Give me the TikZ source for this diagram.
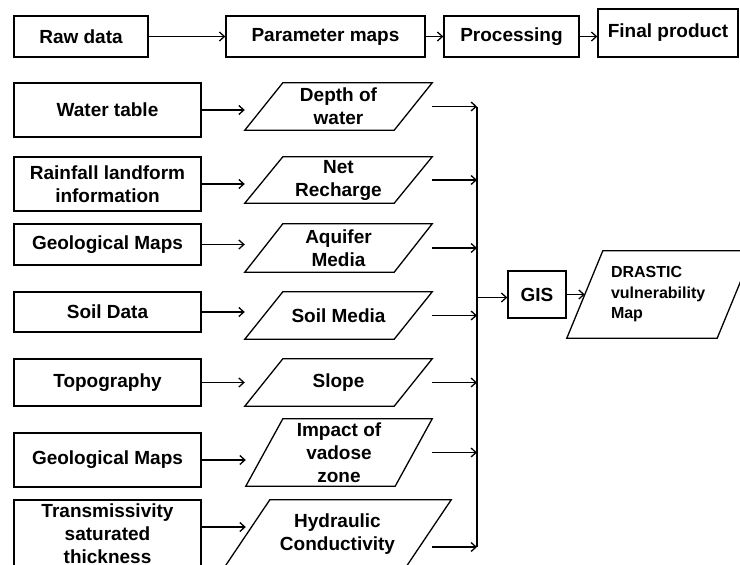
\documentclass[tikz,border=0pt]{standalone}
\usepackage{fontspec}
\setmainfont{Liberation Sans}
\usetikzlibrary{arrows.meta}

\tikzset{
  box/.style={draw, line width=1.3pt, align=center, inner sep=0pt, font=\bfseries\fontsize{19}{23}\selectfont},
  pmap/.style={align=center, inner sep=0pt, font=\bfseries\fontsize{19}{23}\selectfont},
  link/.style={line width=1.3pt, -{Straight Barb[length=5pt,width=9pt]}}
}
% parallelogram drawn inside the node's rectangle
\newcommand{\paraframe}[2]{\draw[line width=1.3pt] ([xshift=#2]#1.north west) -- (#1.north east) -- ([xshift=-#2]#1.south east) -- (#1.south west) -- cycle;}

\begin{document}
\begin{tikzpicture}[x=1pt,y=-1pt]
\useasboundingbox (0,0) rectangle (740,565);
%\draw[step=20pt,gray,very thin] (0,0) grid (740,565); %background grid

% top row
\node[box, minimum width=134pt, minimum height=41pt] (raw)   at (81,36.5)    {Raw data};
\node[box, minimum width=199pt, minimum height=41pt] (param) at (325.5,36.5) {Parameter maps};
\node[box, minimum width=135pt, minimum height=41pt] (proc)  at (511.5,36.5) {Processing};
\node[box, minimum width=140pt, minimum height=48pt] (final) at (668,33)     {Final product};
\draw[link] (raw.east) -- (param.west);
\draw[link] (param.east) -- (proc.west);
\draw[link] (proc.east) -- (final.west |- proc.east);

% raw data boxes
\node[box, minimum width=187pt, minimum height=54pt] (wt)    at (107.5,110)   {Water table};
\node[box, minimum width=187pt, minimum height=54pt] (rain)  at (107.5,184)   {Rainfall landform\\information};
\node[box, minimum width=187pt, minimum height=41pt] (geoa)  at (107.5,244.5) {Geological Maps};
\node[box, minimum width=187pt, minimum height=40pt] (soil)  at (107.5,312)   {Soil Data};
\node[box, minimum width=187pt, minimum height=47pt] (topo)  at (107.5,382.5) {Topography};
\node[box, minimum width=187pt, minimum height=54pt] (geob)  at (107.5,460)   {Geological Maps};
\node[box, minimum width=187pt, minimum height=68pt] (trans) at (107.5,534)   {Transmissivity\\saturated\\thickness};

% parameter maps
\node[pmap, minimum width=187pt, minimum height=47pt] (dw) at (338.5,106.5) {Depth of\\water};       \paraframe{dw}{38pt}
\node[pmap, minimum width=187pt, minimum height=46pt] (nr) at (338.5,180)   {Net\\Recharge};         \paraframe{nr}{38pt}
\node[pmap, minimum width=187pt, minimum height=48pt] (am) at (338.5,248)   {Aquifer\\Media};        \paraframe{am}{38pt}
\node[pmap, minimum width=187pt, minimum height=47pt] (sm) at (338.5,315.5) {Soil Media};            \paraframe{sm}{38pt}
\node[pmap, minimum width=187pt, minimum height=47pt] (sl) at (338.5,382.5) {Slope};                 \paraframe{sl}{38pt}
\node[pmap, minimum width=186pt, minimum height=67pt] (iv) at (339,452.5)   {Impact of\\vadose\\zone}; \paraframe{iv}{37pt}
\node[pmap, minimum width=227pt, minimum height=68pt] (hc) at (337.5,534)   {Hydraulic\\Conductivity}; \paraframe{hc}{46pt}

\draw[link] (wt.east)    -- (wt.east -| dw.west);
\draw[link] (rain.east)  -- (rain.east -| nr.west);
\draw[link] (geoa.east)  -- (geoa.east -| am.west);
\draw[link] (soil.east)  -- (soil.east -| sm.west);
\draw[link] (topo.east)  -- (topo.east -| sl.west);
\draw[link] (geob.east)  -- (geob.east -| iv.west);
\draw[link] ([yshift=7pt]trans.east) -- ([yshift=7pt]trans.east -| iv.west);

% bus into GIS
\coordinate (bus) at (477,0);
\coordinate (hcout) at ([xshift=-19pt,yshift=-13pt]hc.east);
\draw[line width=1.3pt] (dw.east -| bus) -- (hcout -| bus);
\draw[link] (dw.east) -- (dw.east -| bus);
\draw[link] (nr.east) -- (nr.east -| bus);
\draw[link] (am.east) -- (am.east -| bus);
\draw[link] (sm.east) -- (sm.east -| bus);
\draw[link] (sl.east) -- (sl.east -| bus);
\draw[link] (iv.east) -- (iv.east -| bus);
\draw[link] (hcout)   -- (hcout -| bus);

\node[box, minimum width=58pt, minimum height=47pt] (gis) at (537,294.5) {GIS};
\draw[link] ([yshift=-3pt]gis.west -| bus) -- ([yshift=-3pt]gis.west);

\node[align=left, text width=98pt, inner xsep=44pt, inner ysep=0pt, minimum height=87pt,
      font=\bfseries\fontsize{16}{20.5}\selectfont] (drastic) at (660,294.5) {DRASTIC\\vulnerability\\Map};
\paraframe{drastic}{36pt}
\draw[link] (gis.east) -- ([xshift=18pt]drastic.west);

\end{tikzpicture}
\end{document}
